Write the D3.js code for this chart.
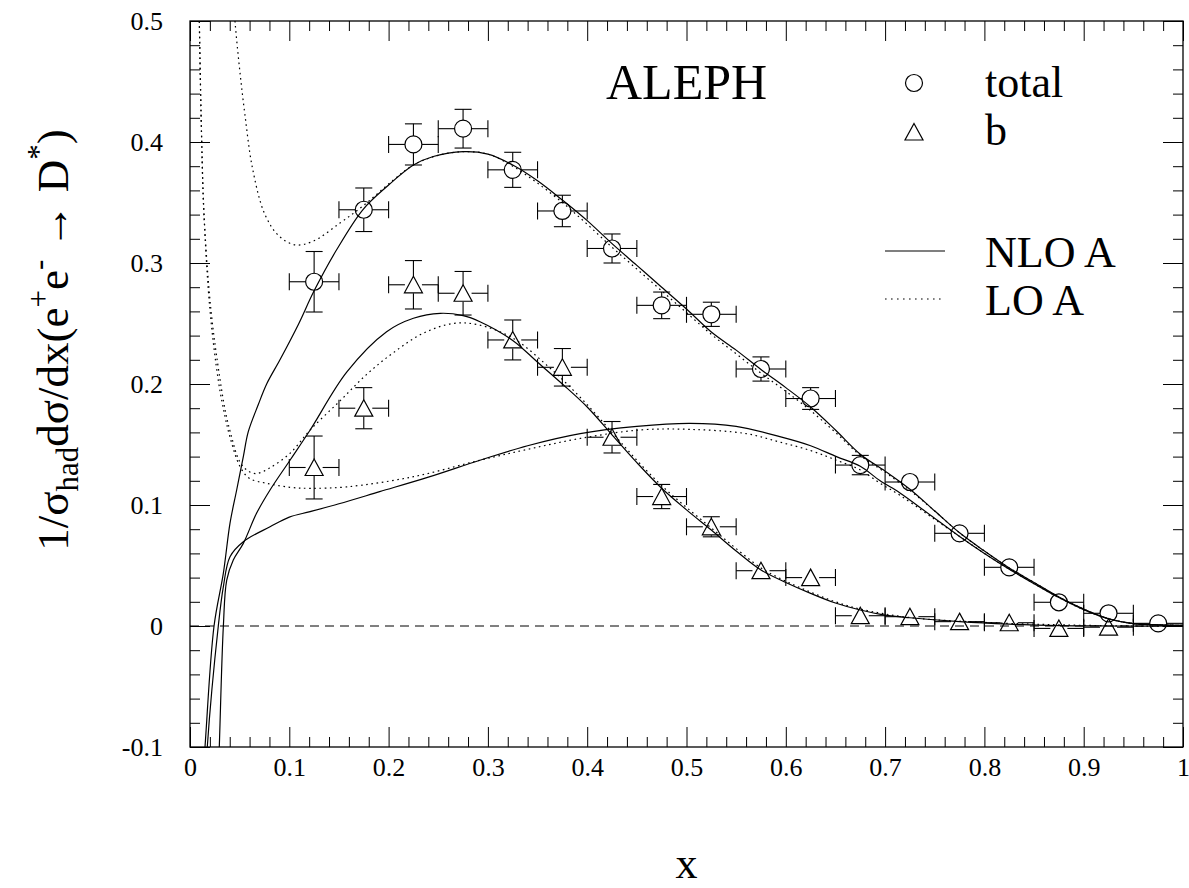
<!DOCTYPE html>
<html><head><meta charset="utf-8">
<script src="https://cdn.jsdelivr.net/npm/d3@7"></script>
<style>
body{margin:0;background:#fff}
svg{display:block}
text{font-family:"Liberation Serif","Times New Roman",serif;fill:#000}
</style>
</head><body>
<svg id="chart" width="1189" height="888"></svg>
<script>
// ---------- data ----------
const xTickValues = [0,0.1,0.2,0.3,0.4,0.5,0.6,0.7,0.8,0.9,1];
const yTickValues = [-0.1,0,0.1,0.2,0.3,0.4,0.5];
const binHalfWidth = 0.025;

const totalX   = [0.125,0.175,0.225,0.275,0.325,0.375,0.425,0.475,0.525,0.575,0.625,0.675,0.725,0.775,0.825,0.875,0.925,0.975];
const totalY   = [0.2845,0.344,0.398,0.411,0.377,0.343,0.312,0.265,0.2576,0.2124,0.188,0.133,0.119,0.0766,0.0485,0.0196,0.0105,0.0022];
const totalErr = [0.025,0.018,0.017,0.016,0.0145,0.013,0.012,0.011,0.010,0.010,0.009,0.008,0.006,0.005,0.004,0.003,0.002,0.001];

const bX   = [0.125,0.175,0.225,0.275,0.325,0.375,0.425,0.475,0.525,0.575,0.625,0.675,0.725,0.775,0.825,0.875,0.925];
const bY   = [0.131,0.180,0.282,0.275,0.2364,0.2138,0.156,0.107,0.082,0.0457,0.040,0.0085,0.0077,0.0036,0.0027,-0.002,-0.001];
const bErr = [0.026,0.017,0.020,0.018,0.0165,0.0155,0.013,0.010,0.0083,0.004,0.003,0.003,0.002,0.002,0.002,0.002,0.002];

const nloTotal = [[0.010,-0.16],[0.0151,-0.1],[0.0242,0.0],[0.0336,0.0437],[0.0403,0.085],[0.047,0.1124],[0.0537,0.140],[0.0587,0.1606],[0.0688,0.183],[0.0772,0.200],[0.0906,0.220],[0.109,0.249],[0.125,0.277],[0.1475,0.3107],[0.174,0.344],[0.198,0.363],[0.225,0.381],[0.245,0.388],[0.275,0.392],[0.3,0.390],[0.325,0.381],[0.35,0.368],[0.375,0.352],[0.4,0.335],[0.425,0.316],[0.45,0.298],[0.475,0.280],[0.5,0.262],[0.525,0.243],[0.55,0.228],[0.575,0.212],[0.6,0.197],[0.625,0.181],[0.65,0.162],[0.675,0.142],[0.7,0.128],[0.725,0.113],[0.75,0.095],[0.775,0.077],[0.8,0.062],[0.825,0.048],[0.85,0.036],[0.875,0.024],[0.9,0.014],[0.925,0.006],[0.95,0.002],[0.975,0.001],[1.0,0.0005]];
const loTotal = [[0.043,0.53],[0.0453,0.5],[0.050,0.46],[0.0554,0.422],[0.063,0.378],[0.0755,0.34],[0.09,0.322],[0.106,0.315],[0.124,0.318],[0.151,0.333],[0.174,0.347],[0.2048,0.3686],[0.225,0.381],[0.25,0.389],[0.275,0.392],[0.3,0.390],[0.325,0.380],[0.35,0.366],[0.375,0.350],[0.4,0.332],[0.425,0.313],[0.45,0.295],[0.475,0.277],[0.5,0.259],[0.525,0.241],[0.55,0.225],[0.575,0.209],[0.6,0.194],[0.625,0.178],[0.65,0.160],[0.675,0.141],[0.7,0.127],[0.725,0.112],[0.75,0.095],[0.775,0.077],[0.8,0.062],[0.825,0.048],[0.85,0.036],[0.875,0.024],[0.9,0.014],[0.925,0.006],[0.95,0.002],[0.975,0.001],[1.0,0.0005]];
const nloB = [[0.027,-0.16],[0.0295,-0.1],[0.0336,0.0],[0.037,0.038],[0.0436,0.0545],[0.0537,0.0683],[0.067,0.0931],[0.0806,0.1124],[0.1007,0.137],[0.121,0.162],[0.158,0.210],[0.198,0.2432],[0.225,0.2543],[0.252,0.2584],[0.275,0.2565],[0.292,0.2515],[0.325,0.236],[0.35,0.218],[0.375,0.200],[0.4,0.181],[0.425,0.158],[0.45,0.135],[0.475,0.1138],[0.5,0.096],[0.525,0.0793],[0.55,0.062],[0.575,0.0463],[0.6,0.036],[0.625,0.027],[0.65,0.019],[0.675,0.0132],[0.7,0.009],[0.725,0.0068],[0.775,0.0036],[0.825,0.0015],[0.875,0.0003],[0.925,0.0],[1.0,0.0]];
const loB = [[0.0085,0.56],[0.0094,0.5],[0.0118,0.40],[0.0141,0.34],[0.021,0.262],[0.030,0.205],[0.036,0.176],[0.041,0.159],[0.050,0.136],[0.0587,0.128],[0.067,0.126],[0.08,0.1305],[0.1007,0.1427],[0.121,0.162],[0.151,0.186],[0.178,0.208],[0.205,0.226],[0.235,0.242],[0.265,0.250],[0.29,0.249],[0.325,0.238],[0.36,0.215],[0.393,0.189],[0.425,0.160],[0.45,0.137],[0.475,0.116],[0.5,0.098],[0.525,0.081],[0.55,0.064],[0.575,0.048],[0.6,0.037],[0.625,0.028],[0.65,0.020],[0.675,0.014],[0.725,0.007],[0.8,0.003],[0.875,0.001],[0.95,0.0],[1.0,0.0]];
const nloC = [[0.014,-0.16],[0.0174,-0.1],[0.0285,0.0],[0.0336,0.0325],[0.0403,0.0573],[0.0537,0.0697],[0.0806,0.082],[0.1,0.09],[0.121,0.0945],[0.15,0.101],[0.191,0.111],[0.24,0.123],[0.292,0.137],[0.34,0.149],[0.393,0.159],[0.45,0.165],[0.5035,0.1675],[0.55,0.165],[0.594,0.1565],[0.625,0.149],[0.651,0.140],[0.675,0.132],[0.695,0.120],[0.715,0.110],[0.745,0.092],[0.775,0.074],[0.8,0.060],[0.825,0.047],[0.85,0.035],[0.875,0.0235],[0.9,0.0135],[0.925,0.006],[0.95,0.002],[0.975,0.001],[1.0,0.0005]];
const loC = [[0.0085,0.56],[0.0094,0.5],[0.0118,0.40],[0.0141,0.34],[0.020,0.262],[0.0285,0.203],[0.035,0.174],[0.040,0.157],[0.0504,0.1317],[0.06,0.122],[0.077,0.118],[0.1007,0.1146],[0.121,0.1138],[0.158,0.115],[0.225,0.1234],[0.292,0.137],[0.34,0.146],[0.393,0.155],[0.453,0.162],[0.5035,0.1625],[0.56,0.159],[0.594,0.152],[0.625,0.145],[0.651,0.137],[0.675,0.129],[0.695,0.118],[0.715,0.108],[0.745,0.091],[0.775,0.074],[0.8,0.060],[0.825,0.047],[0.85,0.035],[0.875,0.0235],[0.9,0.0135],[0.925,0.006],[0.95,0.002],[0.975,0.001],[1.0,0.0005]];

const legendMarkers = ["total","b"];
const legendLines = ["NLO A","LO A"];

// ---------- layout ----------
const L = 190, R = 1183, T = 21, B = 747;
const svg = d3.select("#chart");
const x = d3.scaleLinear().domain([0,1]).range([L,R]);
const y = d3.scaleLinear().domain([-0.1,0.5]).range([B,T]);
const fmt = d => String(Math.round(d*10)/10);
const minorX = d3.range(0,1.0001,0.02).filter(v => Math.abs(v*10 - Math.round(v*10))>1e-6);
const minorY = d3.range(-0.1,0.5001,0.02).filter(v => Math.abs(v*10 - Math.round(v*10))>1e-6);

function styleAxis(g){
  g.select(".domain").remove();
  g.selectAll(".tick line").attr("stroke","#000").attr("stroke-width",1);
  g.attr("font-family",null).attr("font-size",26);
  g.selectAll("text").attr("fill","#000");
}
// bottom
svg.append("g").attr("transform",`translate(0,${B})`)
  .call(d3.axisBottom(x).tickValues(xTickValues).tickSize(-20).tickPadding(11).tickFormat(fmt)).call(styleAxis);
svg.append("g").attr("transform",`translate(0,${B})`)
  .call(d3.axisBottom(x).tickValues(minorX).tickSize(-10).tickFormat("")).call(styleAxis);
// top
svg.append("g").attr("transform",`translate(0,${T})`)
  .call(d3.axisTop(x).tickValues(xTickValues).tickSize(-20).tickFormat("")).call(styleAxis);
svg.append("g").attr("transform",`translate(0,${T})`)
  .call(d3.axisTop(x).tickValues(minorX).tickSize(-10).tickFormat("")).call(styleAxis);
// left
svg.append("g").attr("transform",`translate(${L},0)`)
  .call(d3.axisLeft(y).tickValues(yTickValues).tickSize(-20).tickPadding(27).tickFormat(fmt)).call(styleAxis);
svg.append("g").attr("transform",`translate(${L},0)`)
  .call(d3.axisLeft(y).tickValues(minorY).tickSize(-10).tickFormat("")).call(styleAxis);
// right
svg.append("g").attr("transform",`translate(${R},0)`)
  .call(d3.axisRight(y).tickValues(yTickValues).tickSize(-20).tickFormat("")).call(styleAxis);
svg.append("g").attr("transform",`translate(${R},0)`)
  .call(d3.axisRight(y).tickValues(minorY).tickSize(-10).tickFormat("")).call(styleAxis);

// frame
svg.append("rect").attr("x",L).attr("y",T).attr("width",R-L).attr("height",B-T)
  .attr("fill","none").attr("stroke","#000").attr("stroke-width",1.3);

// clip
svg.append("defs").append("clipPath").attr("id","plotclip")
  .append("rect").attr("x",L).attr("y",T).attr("width",R-L).attr("height",B-T);
const plot = svg.append("g").attr("clip-path","url(#plotclip)");

// zero line
plot.append("line").attr("x1",x(0)).attr("x2",x(1)).attr("y1",y(0)).attr("y2",y(0))
  .attr("stroke","#000").attr("stroke-width",1).attr("stroke-dasharray","9,6");

const line = d3.line().x(d=>x(d[0])).y(d=>y(d[1])).curve(d3.curveCatmullRom.alpha(0.5));
function curve(data, dotted){
  plot.append("path").attr("d",line(data)).attr("fill","none").attr("stroke","#000")
    .attr("stroke-width", 1.2)
    .attr("stroke-dasharray", dotted?"1.6,3.6":null);
}
curve(nloTotal,false); curve(nloB,false); curve(nloC,false);
curve(loTotal,true); curve(loB,true); curve(loC,true);

// error bars + markers
const M = 8.5, CAP = 8.5;
const eb = svg.append("g").attr("stroke","#000").attr("stroke-width",1.1).attr("fill","none");
function errorBars(xs, ys, es){
  xs.forEach((xc,i)=>{
    const px = x(xc), py = y(ys[i]);
    const xl = x(xc-binHalfWidth), xr = x(xc+binHalfWidth);
    eb.append("line").attr("x1",xl).attr("x2",px-M).attr("y1",py).attr("y2",py);
    eb.append("line").attr("x1",px+M).attr("x2",Math.min(xr,R)).attr("y1",py).attr("y2",py);
    eb.append("line").attr("x1",xl).attr("x2",xl).attr("y1",py-CAP).attr("y2",py+CAP);
    if (xr < R-0.5) eb.append("line").attr("x1",xr).attr("x2",xr).attr("y1",py-CAP).attr("y2",py+CAP);
    const yt = y(ys[i]+es[i]), yb = y(ys[i]-es[i]);
    if (py - yt > M) {
      eb.append("line").attr("x1",px).attr("x2",px).attr("y1",yt).attr("y2",py-M);
      eb.append("line").attr("x1",px-CAP).attr("x2",px+CAP).attr("y1",yt).attr("y2",yt);
      eb.append("line").attr("x1",px).attr("x2",px).attr("y1",py+M).attr("y2",yb);
      eb.append("line").attr("x1",px-CAP).attr("x2",px+CAP).attr("y1",yb).attr("y2",yb);
    }
  });
}
errorBars(totalX,totalY,totalErr);
errorBars(bX,bY,bErr);

const triPath = "M0,-8.5L9,8L-9,8Z";
svg.append("g").selectAll("circle").data(totalX).join("circle")
  .attr("cx",d=>x(d)).attr("cy",(d,i)=>y(totalY[i])).attr("r",8.5)
  .attr("fill","none").attr("stroke","#000").attr("stroke-width",1.2);
svg.append("g").selectAll("path").data(bX).join("path")
  .attr("d",triPath).attr("transform",(d,i)=>`translate(${x(d)},${y(bY[i])})`)
  .attr("fill","none").attr("stroke","#000").attr("stroke-width",1.2);

// ALEPH label
svg.append("text").attr("x",606).attr("y",99).attr("font-size",50).text("ALEPH");

// legend
svg.append("circle").attr("cx",914).attr("cy",83).attr("r",8.5).attr("fill","none").attr("stroke","#000").attr("stroke-width",1.2);
svg.append("path").attr("d",triPath).attr("transform","translate(914,132)").attr("fill","none").attr("stroke","#000").attr("stroke-width",1.2);
svg.append("text").attr("x",985).attr("y",97).attr("font-size",44).text(legendMarkers[0]);
svg.append("text").attr("x",985).attr("y",145).attr("font-size",44).text(legendMarkers[1]);
svg.append("line").attr("x1",885).attr("x2",945).attr("y1",251).attr("y2",251).attr("stroke","#000").attr("stroke-width",1.2);
svg.append("line").attr("x1",885).attr("x2",945).attr("y1",299).attr("y2",299).attr("stroke","#000").attr("stroke-width",1.2).attr("stroke-dasharray","1.6,4.4");
svg.append("text").attr("x",985).attr("y",267).attr("font-size",44).text(legendLines[0]);
svg.append("text").attr("x",985).attr("y",315).attr("font-size",44).text(legendLines[1]);

// axis titles
svg.append("text").attr("x",(L+R)/2).attr("y",878).attr("text-anchor","middle").attr("font-size",44).text("x");

const yt = svg.append("text").attr("transform","translate(68,340) rotate(-90)").attr("text-anchor","middle").attr("font-size",45);
yt.append("tspan").text("1/σ");
yt.append("tspan").attr("font-size",31).attr("dy",10).text("had");
yt.append("tspan").attr("dy",-10).text("dσ/dx(e");
yt.append("tspan").attr("font-size",31).attr("dy",-19).text("+");
yt.append("tspan").attr("dy",19).text("e");
yt.append("tspan").attr("font-size",31).attr("dy",-19).text("-");
yt.append("tspan").attr("dy",19).text(" → D");
yt.append("tspan").attr("font-size",31).attr("dy",-19).text("*");
yt.append("tspan").attr("dy",19).text(")");
</script>
</body></html>
